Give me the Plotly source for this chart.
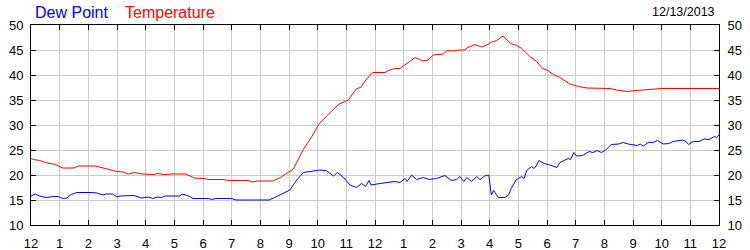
import plotly.graph_objects as go

# ---- data (hours after midnight, values in deg F) ----
temp_hours = [0.0, 0.1, 0.3, 0.5, 0.85, 1.1, 1.5, 1.65, 2.25, 2.7, 3.0, 3.2, 3.4, 3.6, 3.9, 4.3, 4.4,
              4.65, 4.9, 5.4, 5.7, 6.05, 6.2, 6.7, 6.9, 7.6, 7.7, 7.9, 8.45, 8.7, 8.9, 9.15, 9.33,
              9.5, 9.8, 10.06, 10.4, 10.75, 11.07, 11.36, 11.5, 11.68, 11.92, 12.35, 12.46, 12.7,
              12.87, 13.05, 13.4, 13.68, 13.85, 14.03, 14.38, 14.52, 14.7, 14.96, 15.15, 15.2,
              15.49, 15.72, 15.9, 16.04, 16.24, 16.47, 16.73, 16.94, 17.12, 17.4, 17.64, 17.85,
              18.0, 18.22, 18.45, 18.8, 19.1, 19.4, 20.2, 20.43, 20.78, 21.1, 21.6, 22.0, 24.0]
temp_values = [23.3, 23.1, 22.9, 22.5, 22.1, 21.4, 21.4, 21.8, 21.8, 21.1, 20.7, 20.6, 20.2, 20.5,
               20.2, 20.1, 20.3, 20.1, 20.2, 20.2, 19.4, 19.3, 19.1, 19.1, 18.9, 18.9, 18.6, 18.8,
               18.8, 19.5, 20.3, 21.2, 23.2, 25.1, 27.7, 30.3, 32.3, 34.2, 35.0, 37.3, 37.5, 39.0,
               40.5, 40.5, 40.9, 41.3, 41.3, 42.0, 43.5, 42.8, 43.0, 44.0, 44.2, 44.9, 44.8, 45.0,
               45.0, 45.4, 46.1, 45.6, 46.0, 46.5, 46.9, 47.8, 46.3, 45.9, 45.3, 43.7, 42.7, 41.3,
               41.0, 40.1, 39.5, 38.2, 37.7, 37.4, 37.3, 37.0, 36.7, 36.9, 37.1, 37.3, 37.3]

dew_hours = [0.0, 0.15, 0.3, 0.53, 0.8, 0.95, 1.1, 1.25, 1.4, 1.6, 2.1, 2.3, 2.5, 2.6, 2.85, 3.0,
             3.1, 3.5, 3.6, 3.85, 4.1, 4.26, 4.4, 4.55, 4.66, 5.2, 5.27, 5.5, 5.65, 6.2, 6.3, 6.45,
             7.0, 7.15, 7.7, 7.8, 7.9, 8.3, 8.5, 8.9, 9.03, 9.27, 9.5, 9.85, 10.06, 10.3, 10.55,
             10.69, 10.9, 11.13, 11.36, 11.53, 11.67, 11.79, 11.86, 12.17, 12.52, 12.7, 12.87,
             13.05, 13.12, 13.28, 13.45, 13.68, 13.9, 14.15, 14.44, 14.67, 14.85, 14.96, 15.1,
             15.2, 15.37, 15.55, 15.66, 15.83, 15.97, 16.06, 16.14, 16.3, 16.53, 16.66, 16.75,
             16.92, 17.11, 17.2, 17.29, 17.46, 17.55, 17.62, 17.72, 17.9, 18.05, 18.22, 18.35,
             18.45, 18.6, 18.74, 18.82, 18.94, 19.03, 19.24, 19.47, 19.6, 19.75, 19.9, 20.05,
             20.24, 20.5, 20.66, 20.83, 21.0, 21.15, 21.25, 21.36, 21.53, 21.7, 21.85, 22.06,
             22.25, 22.4, 22.72, 22.85, 22.94, 23.1, 23.3, 23.48, 23.65, 23.84, 23.92, 24.0]
dew_values = [15.8, 16.2, 15.8, 15.5, 15.7, 15.7, 15.3, 15.4, 16.1, 16.5, 16.5, 16.4, 16.0, 16.2,
              16.2, 15.6, 15.8, 15.8, 15.9, 15.4, 15.6, 15.3, 15.6, 15.5, 15.8, 15.8, 16.2, 15.8,
              15.3, 15.3, 15.1, 15.3, 15.3, 15.0, 15.0, 14.9, 15.0, 15.0, 15.5, 16.7, 17.0, 19.0,
              20.5, 20.8, 21.0, 20.9, 19.8, 20.5, 19.5, 18.0, 17.5, 18.3, 17.7, 18.9, 18.0, 18.3,
              18.5, 18.7, 18.5, 19.3, 18.7, 20.0, 19.1, 19.5, 19.1, 19.3, 19.9, 18.9, 19.1, 19.7,
              18.7, 19.5, 18.7, 19.7, 19.1, 19.8, 20.0, 16.0, 16.9, 15.5, 15.5, 16.0, 17.3, 19.0,
              19.7, 19.3, 20.9, 21.7, 21.3, 21.8, 22.9, 22.3, 22.1, 21.7, 21.5, 22.5, 22.9, 23.3,
              23.1, 24.5, 23.8, 23.9, 24.7, 24.5, 24.9, 24.5, 25.0, 26.1, 26.2, 26.5, 26.2, 26.1,
              25.9, 26.2, 25.8, 26.5, 26.5, 26.9, 26.2, 26.3, 26.7, 27.0, 26.7, 26.1, 26.7, 26.7,
              27.2, 27.1, 27.7, 27.5, 28.0]

x_tickvals = list(range(0, 25))
x_ticktext = ["12", "1", "2", "3", "4", "5", "6", "7", "8", "9", "10", "11",
              "12", "1", "2", "3", "4", "5", "6", "7", "8", "9", "10", "11", "12"]
y_tickvals = [10, 15, 20, 25, 30, 35, 40, 45, 50]

series_names = ["Dew Point", "Temperature"]
series_colors = ["#0000ff", "#ff0000"]
date_label = "12/13/2013"

FONT = "Liberation Sans, Arial, sans-serif"

fig = go.Figure()
fig.add_trace(go.Scatter(x=dew_hours, y=dew_values, mode="lines", name=series_names[0],
                         line=dict(color=series_colors[0], width=1), yaxis="y2",
                         hoverinfo="skip"))
fig.add_trace(go.Scatter(x=temp_hours, y=temp_values, mode="lines", name=series_names[1],
                         line=dict(color=series_colors[1], width=1), hoverinfo="skip"))

axis_common = dict(showline=True, linecolor="black", linewidth=1, ticks="inside",
                   ticklen=5, tickcolor="black", tickwidth=1,
                   tickfont=dict(family=FONT, size=13, color="black"),
                   zeroline=False, fixedrange=True, automargin=False)

fig.update_layout(
    width=750, height=250,
    margin=dict(l=31, r=31, t=25, b=25),
    paper_bgcolor="white", plot_bgcolor="white",
    showlegend=False,
    xaxis=dict(range=[0, 24], tickmode="array", tickvals=x_tickvals, ticktext=x_ticktext,
               showgrid=True, gridcolor="#cccccc", gridwidth=1, mirror="ticks",
               ticklabelstandoff=6, **axis_common),
    yaxis=dict(range=[10, 50], tickmode="array", tickvals=y_tickvals,
               showgrid=True, gridcolor="#cccccc", gridwidth=1, mirror="ticks",
               ticklabelstandoff=4, **axis_common),
    yaxis2=dict(range=[10, 50], tickmode="array", tickvals=y_tickvals, overlaying="y",
                side="right", showgrid=False, ticklabelstandoff=5, **axis_common),
    annotations=[
        dict(text=series_names[0], xref="paper", yref="paper", x=0.003, y=1.065,
             xanchor="left", yanchor="middle", showarrow=False,
             font=dict(family=FONT, size=16, color=series_colors[0])),
        dict(text=series_names[1], xref="paper", yref="paper", x=0.134, y=1.065,
             xanchor="left", yanchor="middle", showarrow=False,
             font=dict(family=FONT, size=16, color=series_colors[1])),
        dict(text=date_label, xref="paper", yref="paper", x=0.997, y=1.065,
             xanchor="right", yanchor="middle", showarrow=False,
             font=dict(family=FONT, size=12.5, color="black")),
    ],
)

fig.write_html("out.html", config={"displayModeBar": False, "staticPlot": True})
